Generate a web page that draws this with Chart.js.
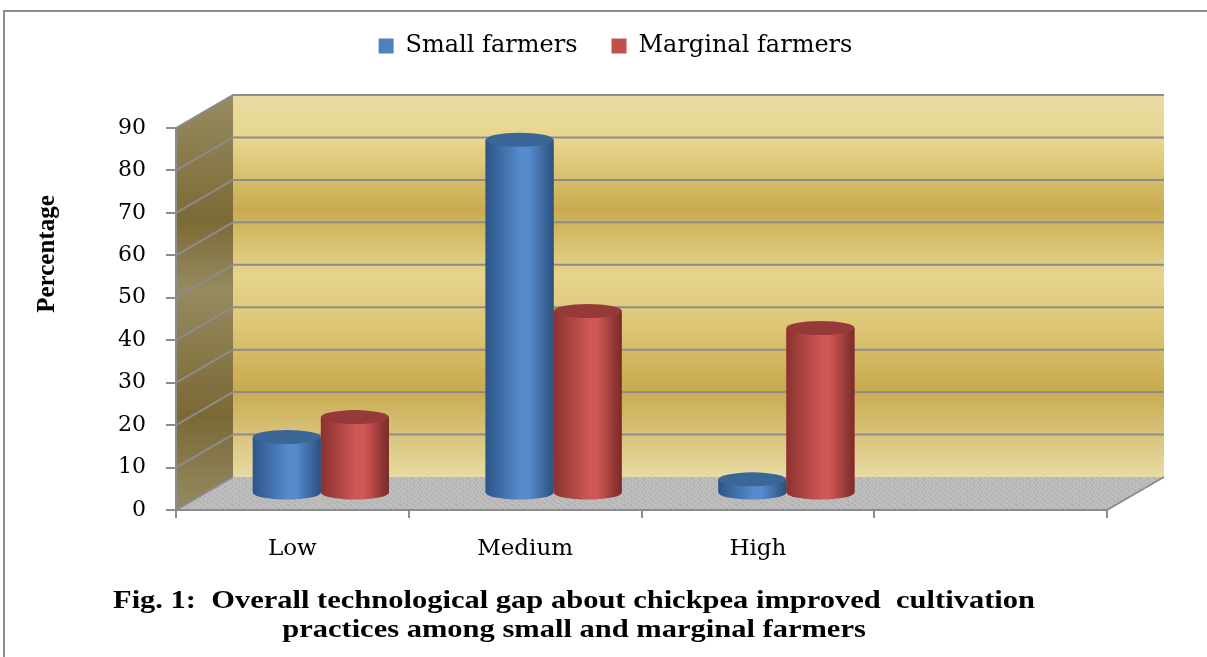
<!DOCTYPE html>
<html>
<head>
<meta charset="utf-8">
<title>Technological gap</title>
<script src="https://cdn.jsdelivr.net/npm/chart.js@4.4.0/dist/chart.umd.min.js"></script>
<style>
    html, body { margin: 0; padding: 0; background: #fff; overflow: hidden; }
</style>
</head>
<body>
<canvas id="gapChart" width="1207" height="657"></canvas>
<script>
const categories = ['Low', 'Medium', 'High', ''];
const seriesNames = ['Small farmers', 'Marginal farmers'];
const smallFarmers = [13.33, 83.33, 3.33, null];
const marginalFarmers = [18, 43, 39, null];
const yTicks = [0, 10, 20, 30, 40, 50, 60, 70, 80, 90];
const yTitle = 'Percentage';
const captionLines = [
    'Fig. 1:  Overall technological gap about chickpea improved  cultivation',
    'practices among small and marginal farmers'
];

const seriesColors = ['#4f81bd', '#c0504d'];
const cylinderShades = [
    { edge: '#2c5587', light: '#568bcd', far: '#2a507e', top: '#3b6698' },
    { edge: '#8a3230', light: '#cf5755', far: '#7a2a28', top: '#953a38' }
];

// depth of the 3d box (back wall offset)
const DEPTH_X = 57;
const DEPTH_Y = -33;
const GRID = '#8c8c8c';

const serif = "'DejaVu Serif', serif";

// fixed speckle tile for the floor
function floorPattern(ctx) {
    const tile = document.createElement('canvas');
    tile.width = 7;
    tile.height = 5;
    const t = tile.getContext('2d');
    const shades = ['#b9b9b9', '#c3c3c3', '#adadad', '#bdbdbd', '#b3b3b3', '#c7c7c7', '#b6b6b6'];
    const order = [3, 0, 5, 2, 6, 1, 4, 0, 2, 4, 1, 3, 6, 5, 6, 4, 0, 5, 2, 3, 1,
                   1, 5, 3, 6, 0, 4, 2, 4, 2, 1, 3, 5, 0, 6];
    for (let k = 0; k < 35; k++) {
        t.fillStyle = shades[order[k]];
        t.fillRect(k % 7, Math.floor(k / 7), 1, 1);
    }
    return ctx.createPattern(tile, 'repeat');
}

const legendHeight = {
    id: 'legendHeight',
    beforeInit(chart) {
        const fit = chart.legend.fit;
        chart.legend.fit = function () {
            fit.call(this);
            this.height = 128;
        };
    }
};

const box3d = {
    id: 'box3d',
    beforeDraw(chart) {
        const { ctx, chartArea } = chart;
        const y = chart.scales.y;
        const l = chartArea.left, r = chartArea.right;
        const top = y.getPixelForValue(yTicks[yTicks.length - 1]);
        const bot = y.getPixelForValue(0);

        ctx.save();
        // back wall
        let g = ctx.createLinearGradient(0, top + DEPTH_Y, 0, bot + DEPTH_Y);
        g.addColorStop(0, '#e8dca4');
        g.addColorStop(0.12, '#e7d68e');
        g.addColorStop(0.3, '#c9ab50');
        g.addColorStop(0.47, '#e6d58d');
        g.addColorStop(0.62, '#dcc473');
        g.addColorStop(0.77, '#c8aa4f');
        g.addColorStop(1, '#e8dba4');
        ctx.fillStyle = g;
        ctx.fillRect(l + DEPTH_X, top + DEPTH_Y, r - l, bot - top);

        // side wall
        g = ctx.createLinearGradient(0, top + DEPTH_Y, 0, bot);
        g.addColorStop(0, '#978c62');
        g.addColorStop(0.3, '#7c6a35');
        g.addColorStop(0.47, '#958a60');
        g.addColorStop(0.77, '#7b6935');
        g.addColorStop(1, '#948a62');
        ctx.fillStyle = g;
        ctx.beginPath();
        ctx.moveTo(l, bot);
        ctx.lineTo(l, top);
        ctx.lineTo(l + DEPTH_X, top + DEPTH_Y);
        ctx.lineTo(l + DEPTH_X, bot + DEPTH_Y);
        ctx.closePath();
        ctx.fill();

        // floor
        ctx.fillStyle = floorPattern(ctx);
        ctx.beginPath();
        ctx.moveTo(l, bot);
        ctx.lineTo(r, bot);
        ctx.lineTo(r + DEPTH_X, bot + DEPTH_Y);
        ctx.lineTo(l + DEPTH_X, bot + DEPTH_Y);
        ctx.closePath();
        ctx.fill();

        // grid lines on back and side walls
        ctx.strokeStyle = GRID;
        ctx.lineWidth = 2;
        yTicks.forEach(v => {
            const py = y.getPixelForValue(v);
            ctx.beginPath();
            ctx.moveTo(l, py);
            ctx.lineTo(l + DEPTH_X, py + DEPTH_Y);
            if (v > 0) ctx.lineTo(r + DEPTH_X, py + DEPTH_Y);
            ctx.stroke();
        });
        ctx.beginPath();
        ctx.moveTo(r, bot);
        ctx.lineTo(r + DEPTH_X, bot + DEPTH_Y);
        ctx.stroke();
        ctx.restore();
    },
    beforeDatasetsDraw(chart) {
        chart.ctx.save();
        chart.ctx.translate(DEPTH_X / 2, DEPTH_Y / 2);
    },
    afterDatasetsDraw(chart) {
        const ctx = chart.ctx;
        chart.data.datasets.forEach((ds, i) => {
            const shade = cylinderShades[i];
            chart.getDatasetMeta(i).data.forEach((bar, j) => {
                if (ds.data[j] == null) return;
                const { x, y, base, width } = bar.getProps(['x', 'y', 'base', 'width'], true);
                const left = x - width / 2, right = x + width / 2, ry = 7;
                const g = ctx.createLinearGradient(left, 0, right, 0);
                g.addColorStop(0, shade.edge);
                g.addColorStop(0.52, shade.light);
                g.addColorStop(0.64, shade.light);
                g.addColorStop(1, shade.far);
                ctx.fillStyle = g;
                ctx.beginPath();
                ctx.moveTo(left, y);
                ctx.lineTo(left, base);
                ctx.ellipse(x, base, width / 2, ry, 0, Math.PI, 0, true);
                ctx.lineTo(right, y);
                ctx.closePath();
                ctx.fill();
                ctx.fillStyle = shade.top;
                ctx.beginPath();
                ctx.ellipse(x, y, width / 2, ry, 0, 0, Math.PI * 2);
                ctx.fill();
            });
        });
        ctx.restore();
    },
    afterDraw(chart) {
        const ctx = chart.ctx;
        ctx.save();
        // frame
        ctx.strokeStyle = GRID;
        ctx.lineWidth = 2;
        ctx.beginPath();
        ctx.moveTo(4, chart.height);
        ctx.lineTo(4, 11);
        ctx.lineTo(chart.width, 11);
        ctx.stroke();

        ctx.fillStyle = '#000';
        ctx.textAlign = 'center';
        ctx.textBaseline = 'middle';

        // y axis title
        ctx.save();
        ctx.font = "bold 25px 'Liberation Serif', serif";
        ctx.translate(48, 254);
        ctx.rotate(-Math.PI / 2);
        ctx.fillText(yTitle, 0, 0);
        ctx.restore();

        // caption
        ctx.font = "bold 26px 'Liberation Serif', serif";
        const sx = 922 / ctx.measureText(captionLines[0]).width;
        [601, 630].forEach((py, k) => {
            ctx.save();
            ctx.translate(574, py);
            ctx.scale(sx, 1);
            ctx.fillText(captionLines[k], 0, 0);
            ctx.restore();
        });
        ctx.restore();
    }
};

new Chart(document.getElementById('gapChart'), {
    type: 'bar',
    data: {
        labels: categories,
        datasets: [
            { label: seriesNames[0], data: smallFarmers, backgroundColor: seriesColors[0] },
            { label: seriesNames[1], data: marginalFarmers, backgroundColor: seriesColors[1] }
        ]
    },
    options: {
        responsive: false,
        animation: false,
        layout: { padding: { left: 24, right: 0, top: 0, bottom: 0 } },
        datasets: {
            bar: { categoryPercentage: 0.585, barPercentage: 1, borderWidth: 0, clip: false }
        },
        plugins: {
            tooltip: { enabled: false },
            legend: {
                position: 'top',
                labels: {
                    padding: 34,
                    boxWidth: 15,
                    boxHeight: 15,
                    color: '#000',
                    font: { family: serif, size: 24 },
                    generateLabels: () => seriesNames.map((name, i) => ({
                        text: name,
                        fillStyle: seriesColors[i],
                        strokeStyle: seriesColors[i],
                        lineWidth: 0,
                        datasetIndex: i
                    }))
                }
            }
        },
        scales: {
            x: {
                grid: { drawOnChartArea: false, drawTicks: true, tickLength: 8, color: GRID, lineWidth: 2 },
                border: { color: GRID, width: 2 },
                ticks: { color: '#000', padding: 17, font: { family: serif, size: 23 } },
                afterFit: s => { s.height = 147; }
            },
            y: {
                min: 0,
                max: 90,
                grid: { drawOnChartArea: false, drawTicks: true, tickLength: 10, color: GRID, lineWidth: 2 },
                border: { color: GRID, width: 2 },
                ticks: {
                    stepSize: 10,
                    padding: 20,
                    color: '#000',
                    font: { family: serif, size: 22 }
                },
                afterFit: s => { s.width = 152; }
            },
            yRight: {
                position: 'right',
                display: true,
                grid: { display: false },
                border: { display: false },
                ticks: { display: false },
                afterFit: s => { s.width = 100; }
            }
        }
    },
    plugins: [legendHeight, box3d]
});
</script>
</body>
</html>
